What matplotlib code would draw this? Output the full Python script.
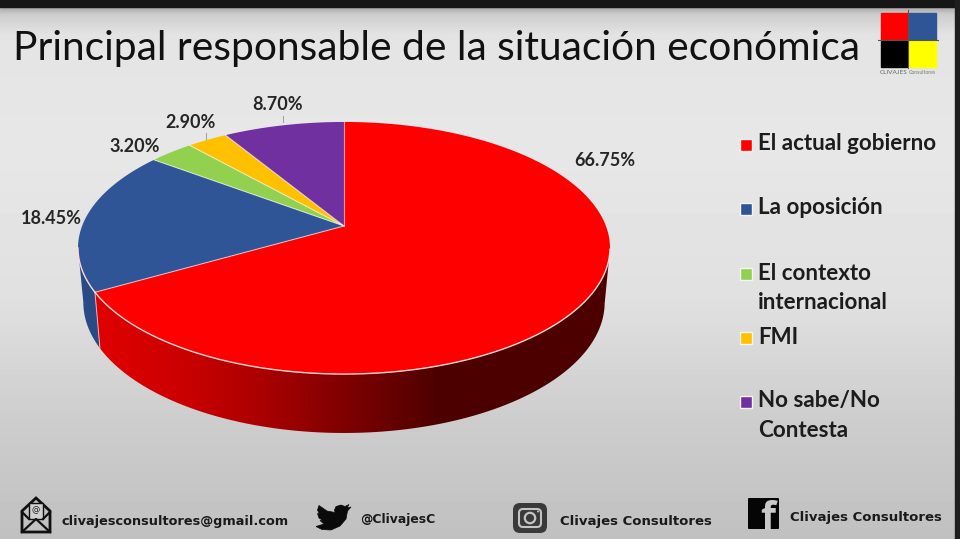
import numpy as np
import matplotlib
matplotlib.use("Agg")
import matplotlib.pyplot as plt
from matplotlib.patches import Polygon, Rectangle, FancyBboxPatch, Circle

# values
categories = ["El actual gobierno", "La oposición", "El contexto\ninternacional", "FMI", "No sabe/No\nContesta"]
values = [66.75, 18.45, 3.20, 2.90, 8.70]
colors = ["#ff0000", "#2f5597", "#92d050", "#ffc000", "#7030a0"]

title = "Principal responsable de la situación económica"
footer_mail = "clivajesconsultores@gmail.com"
footer_twitter = "@ClivajesC"
footer_name = "Clivajes Consultores"

# pie placement, in pixels of the slide
apex_x, apex_y = 344, 226
pie_a, pie_b, pie_k = 261.9, 122.2, 0.1746

label_x = [605, 51, 135, 191, 278]
label_y = [161, 218, 146, 122, 105]
legend_y = [144, 208, 273, 337, 401]


def project(theta, x_scale=1.0, y_scale=1.0, y_shift=0.0):
    # theta runs clockwise from twelve o'clock, perspective squeezes the back
    u, v = np.sin(theta), np.cos(theta)
    w = 1 + pie_k * v
    x = apex_x + x_scale * pie_a * u / w
    y = apex_y - y_scale * pie_b * v / w + y_shift
    return x, y


fig = plt.figure(figsize=(9.6, 5.39), dpi=100)
ax = fig.add_axes([0, 0, 1, 1])
ax.axis("off")

# slide background
rows = np.arange(539)
grey = np.interp(rows, [8, 14, 35, 150, 300, 420, 539], [172, 205, 228, 231, 224, 205, 192])
ax.imshow(np.tile(grey[:, None], (1, 4)) / 255, cmap="gray", vmin=0, vmax=1,
          extent=[0, 960, 539, 0], aspect="auto", zorder=0)
ax.add_patch(Rectangle((0, 0), 960, 7, color="#161616", zorder=1))
ax.add_patch(Rectangle((955, 0), 5, 539, color="#1e1e1e", zorder=1))

ax.text(13, 60, title, fontsize=29.3, family="Lato", color="#111111", va="baseline")

# logo
ax.add_patch(Rectangle((881, 13), 27, 27, color="#ff0000"))
ax.add_patch(Rectangle((909, 13), 27, 27, color="#2f5597"))
ax.add_patch(Rectangle((881, 41), 27, 26, color="#000000"))
ax.add_patch(Rectangle((909, 41), 27, 26, color="#ffff00"))
ax.plot([908, 908], [10, 68], color="#555555", lw=0.8)
ax.plot([878, 938], [40, 40], color="#555555", lw=0.8)
ax.text(880, 72, "CLIVAJES", fontsize=4.6, family="Lato", color="#666666", va="center")
ax.text(909, 72.5, "Consultores", fontsize=3.7, family="Lato", color="#777777", va="center")

# pie
edges = np.cumsum([0] + values) / sum(values) * 2 * np.pi

# side wall first, only the part that faces the viewer
columns = np.arange(960) + 0.5
shade = np.interp(columns, [95, 180, 260, 350, 440, 610], [0.88, 0.80, 0.67, 0.49, 0.30, 0.30])
for i, color in enumerate(colors):
    thetas = np.linspace(edges[i], edges[i + 1], 400)
    thetas = thetas[np.cos(thetas) < -pie_k]
    if len(thetas) < 2:
        continue
    x0, y0 = project(thetas)
    x1, y1 = project(thetas, x_scale=0.98, y_scale=1.036, y_shift=53.6)
    outline = list(zip(x0, y0)) + list(zip(x1[::-1], y1[::-1]))
    wall_patch = Polygon(outline, closed=True, facecolor="none", edgecolor="none", zorder=2)
    ax.add_patch(wall_patch)
    base = np.array(matplotlib.colors.to_rgb(color))
    gradient = shade[None, :, None] * base[None, None, :]
    wall = ax.imshow(gradient, extent=[0, 960, 539, 0], aspect="auto", zorder=2, interpolation="bilinear")
    wall.set_clip_path(wall_patch)

for i, color in enumerate(colors):
    thetas = np.linspace(edges[i], edges[i + 1], 400)
    x, y = project(thetas)
    points = [(apex_x, apex_y)] + list(zip(x, y))
    ax.add_patch(Polygon(points, closed=True, facecolor=color, edgecolor="none", zorder=3))
    # light line on the radial cuts and on the front rim only
    ax.plot([apex_x, x[0]], [apex_y, y[0]], color="#ffffff", alpha=0.6, lw=0.8, zorder=4)
    front = np.cos(thetas) < -pie_k
    if front.any():
        ax.plot(x[front], y[front], color="#ffd8d8", lw=1.0, zorder=4)

# wall seam between the red and blue slices
seam_top = project(edges[1])
seam_bottom = project(edges[1], x_scale=0.98, y_scale=1.036, y_shift=53.6)
ax.plot([seam_top[0], seam_bottom[0]], [seam_top[1], seam_bottom[1]], color="#f0b0b0", lw=0.7, zorder=3)

# data labels
for value, x, y in zip(values, label_x, label_y):
    ax.text(x, y, f"{value:.2f}%", fontsize=13, family="Lato", fontweight="bold",
            color="#262626", ha="center", va="center", zorder=5)
ax.plot([283, 283], [116, 122], color="#a6a6a6", lw=0.8, zorder=2)
ax.plot([206, 206], [133, 139], color="#a6a6a6", lw=0.8, zorder=2)

# legend
for name, color, y in zip(categories, colors, legend_y):
    ax.add_patch(Rectangle((739.5, y - 5.5), 12, 12, facecolor=color, edgecolor="#f4f4f4", lw=1, zorder=4))
    for n, line in enumerate(name.split("\n")):
        ax.text(758, y + n * 29.5, line, fontsize=16.1, family="Lato", fontweight="bold",
                color="#1c1c1c", va="center", zorder=5)

# footer: mail icon
ax.add_patch(Polygon([(22, 511), (36, 498), (50, 511), (50, 532), (22, 532)], closed=True,
                     facecolor="none", edgecolor="#111111", lw=2, zorder=4))
ax.add_patch(Rectangle((29, 503), 14, 16, facecolor="#d0d0d0", edgecolor="#111111", lw=1, zorder=4))
ax.text(36, 510, "@", fontsize=6, color="#222222", ha="center", va="center", zorder=5)
ax.plot([22, 36, 50], [532, 519, 532], color="#111111", lw=1.6, zorder=5)
ax.plot([22, 29], [512, 519], color="#111111", lw=1.6, zorder=5)
ax.plot([50, 43], [512, 519], color="#111111", lw=1.6, zorder=5)
ax.text(61, 522, footer_mail, fontsize=9.3, family="DejaVu Sans", fontweight="bold", color="#1a1a1a", va="center")

# footer: twitter icon
bird = [(351, 507), (347, 508), (349, 504.5), (345, 506.5), (341, 505), (336, 506.5), (334.5, 510),
        (335, 512.5), (327, 511), (319, 505.5), (317.5, 510), (319.5, 514), (317.5, 513.5), (319, 518),
        (323, 520.5), (320, 520.5), (324, 524), (316, 526.5), (322, 529.5), (331, 530), (340, 526),
        (346, 519), (347.5, 511)]
ax.add_patch(Polygon(bird, closed=True, facecolor="#0a0a0a", edgecolor="#0a0a0a", lw=0.5, zorder=4))
ax.text(360, 519, footer_twitter, fontsize=8.9, family="DejaVu Sans", fontweight="bold", color="#1a1a1a", va="center")

# footer: instagram icon
ax.add_patch(FancyBboxPatch((517, 507), 26, 22, boxstyle="round,pad=4,rounding_size=7",
                            facecolor="#3a3a3a", edgecolor="none", zorder=4))
ax.add_patch(FancyBboxPatch((520, 510), 20, 16, boxstyle="round,pad=1,rounding_size=4",
                            facecolor="none", edgecolor="#c4c4c4", lw=1.5, zorder=5))
ax.add_patch(Circle((530, 518), 5.2, facecolor="none", edgecolor="#c4c4c4", lw=1.6, zorder=5))
ax.add_patch(Circle((538, 511.5), 1, facecolor="#c4c4c4", edgecolor="none", zorder=5))
ax.text(560, 521, footer_name, fontsize=9.5, family="DejaVu Sans", fontweight="bold", color="#1a1a1a", va="center")

# footer: facebook icon
ax.add_patch(FancyBboxPatch((749, 499), 29, 29, boxstyle="round,pad=1,rounding_size=1",
                            facecolor="#050505", edgecolor="none", zorder=4))
ax.text(768, 530, "f", fontsize=28, family="Open Sans", fontweight="bold", color="#c8c8c8",
        ha="center", va="baseline", zorder=5)
ax.text(790, 518, footer_name, fontsize=9.5, family="DejaVu Sans", fontweight="bold", color="#1a1a1a", va="center")

ax.set_xlim(0, 960)
ax.set_ylim(539, 0)

fig.savefig("out.png", dpi=100)
